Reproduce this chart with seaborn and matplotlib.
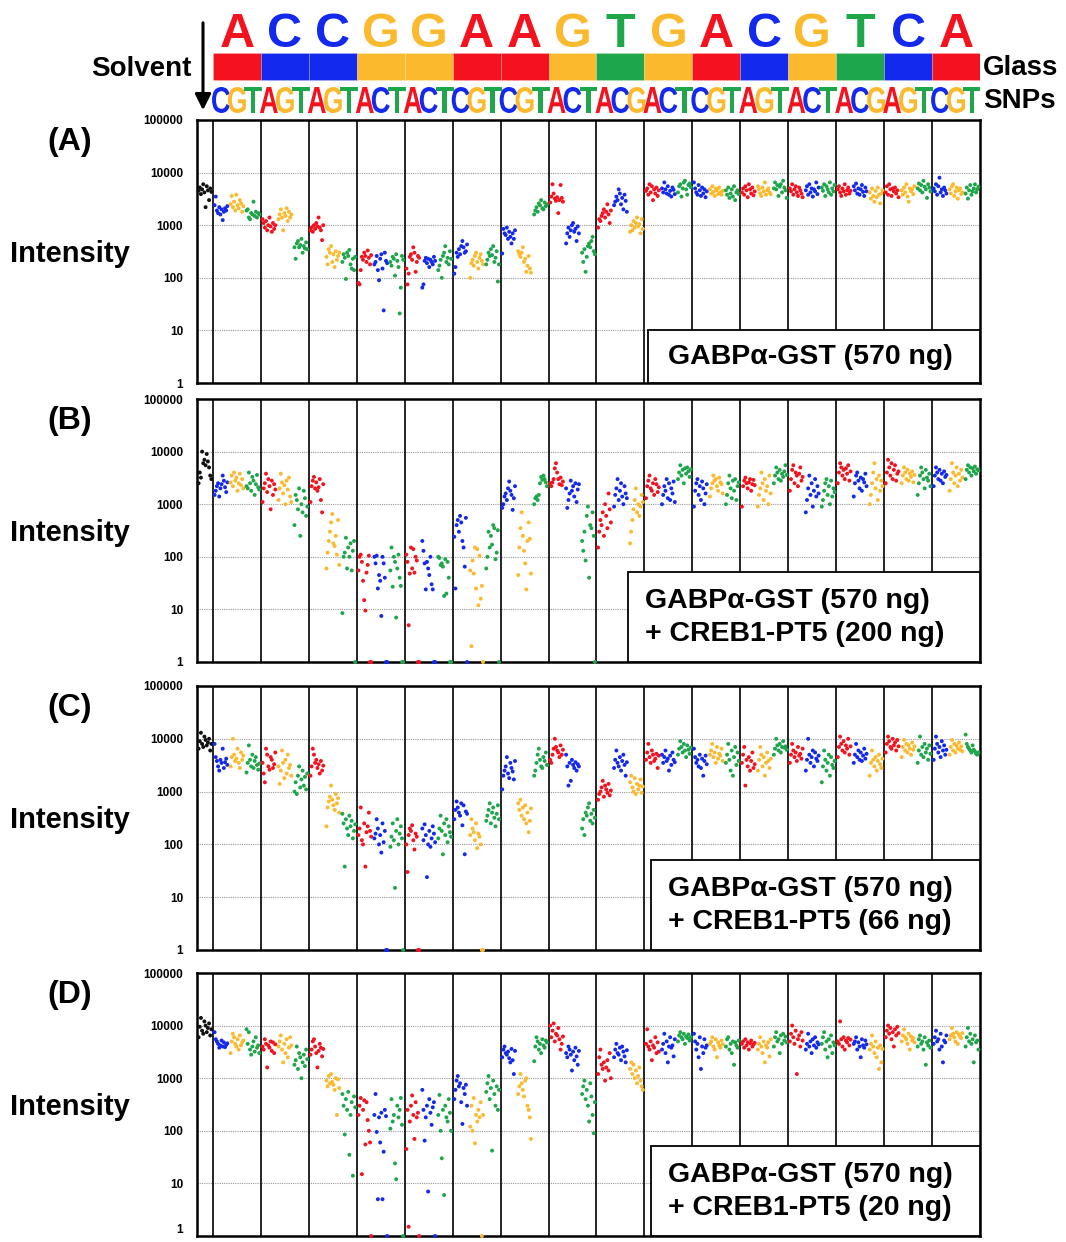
import numpy as np
import pandas as pd
import matplotlib.pyplot as plt
import seaborn as sns
from matplotlib.textpath import TextPath
from matplotlib.patches import PathPatch, Rectangle
from matplotlib.font_manager import FontProperties
from matplotlib.transforms import Affine2D
from matplotlib.ticker import NullLocator

sns.set_theme(style="white")
plt.rcParams["font.family"] = ["Liberation Sans", "DejaVu Sans"]
plt.rcParams["text.color"] = "black"
plt.rcParams["ytick.color"] = "black"

# Sequence shown above the panels
GLASS = list("ACCGGAAGTGACGTCA")
SNPS = list("CGTAGTAGTACTACTCGTCGTACTACGACTCGTAGTACTACGAGTCGT")

COLORS = {"A": "#F5121F", "C": "#1429EE", "G": "#FBBA2D", "T": "#1EA64B", "S": "#111111"}

YTICKS = [1, 10, 100, 1000, 10000, 100000]
YTICK_LABELS = ["1", "10", "100", "1000", "10000", "100000"]

# Intensity per probe, first group = solvent, then 48 SNP groups (3 per glass base)
# a value of 1 is a probe that sat at zero
VALUES_A = [
    [4500, 5200, 3900, 4800, 6000, 4200, 2200, 5500, 4600, 3000, 5000, 4300],
    [2400, 3500, 1900, 1700, 2200, 1600, 2000, 1250, 1800, 2100, 1900, 2300],
    [2500, 3600, 2200, 2800, 1900, 3800, 2400, 2100, 3000, 2600, 1800, 2300],
    [1900, 2000, 1400, 1300, 1700, 1600, 2800, 1500, 1800, 1400, 1700, 1600],
    [1300, 1100, 900, 1200, 800, 1000, 1400, 950, 750, 1100, 850, 1000],
    [1300, 1600, 2000, 1400, 800, 1700, 1500, 2100, 1200, 1800, 1400, 1600],
    [380, 230, 450, 500, 380, 420, 550, 300, 400, 360, 470, 350],
    [800, 900, 750, 1000, 850, 1100, 950, 1400, 900, 800, 520, 1000],
    [250, 180, 350, 300, 400, 200, 280, 160, 320, 220, 260, 300],
    [200, 280, 240, 95, 300, 260, 340, 180, 150, 230, 140, 250],
    [80, 75, 140, 250, 220, 300, 260, 200, 330, 240, 180, 270],
    [180, 200, 260, 140, 90, 230, 280, 150, 24, 300, 210, 190],
    [200, 170, 250, 230, 110, 280, 210, 160, 21, 65, 260, 220],
    [150, 75, 120, 250, 280, 220, 380, 300, 130, 200, 260, 240],
    [65, 75, 210, 240, 190, 230, 160, 220, 200, 180, 250, 210],
    [140, 170, 220, 100, 260, 300, 400, 200, 240, 180, 320, 230],
    [120, 160, 300, 250, 350, 280, 400, 500, 380, 300, 320, 430],
    [100, 190, 220, 170, 260, 300, 200, 150, 240, 280, 210, 180],
    [180, 220, 300, 260, 350, 270, 400, 200, 240, 320, 85, 180],
    [290, 850, 700, 650, 900, 550, 750, 600, 450, 700, 550, 800],
    [320, 280, 250, 300, 380, 200, 230, 130, 170, 260, 150, 125],
    [1600, 1900, 2200, 1800, 2600, 2400, 3000, 2100, 2000, 2700, 2300, 2500],
    [2700, 3500, 6000, 4000, 3200, 2900, 3400, 1700, 3000, 5800, 3300, 2800],
    [450, 700, 900, 600, 800, 1000, 1100, 750, 850, 500, 950, 700],
    [300, 200, 350, 130, 250, 400, 450, 380, 500, 600, 320, 280],
    [900, 1300, 1200, 1500, 1700, 2000, 1400, 1800, 2500, 1600, 1100, 1900],
    [2400, 2800, 3500, 3000, 4800, 4000, 2500, 3300, 2000, 3800, 2900, 1800],
    [750, 1000, 800, 1200, 900, 1100, 1400, 950, 1050, 700, 1300, 850],
    [4500, 5000, 3800, 6000, 4200, 5500, 3000, 4800, 4000, 5200, 3600, 4600],
    [5000, 4200, 6500, 4800, 4000, 5500, 3800, 4500, 3500, 5200, 4700, 3900],
    [4200, 5500, 6000, 3500, 5000, 6500, 7000, 4800, 3800, 5800, 6200, 5300],
    [6500, 5000, 4200, 3800, 5800, 4600, 3600, 5200, 4000, 4800, 3400, 4400],
    [4800, 4000, 5500, 4300, 3600, 5000, 4600, 3900, 5200, 4200, 3800, 4500],
    [4600, 3800, 5200, 3300, 4000, 4800, 3500, 5500, 3000, 4200, 4600, 3900],
    [4200, 5000, 3800, 5500, 4600, 3400, 6000, 4800, 4000, 5200, 3700, 4400],
    [5500, 4800, 4000, 3600, 5200, 4400, 6500, 3800, 4600, 5000, 4200, 3900],
    [5000, 6500, 4800, 5800, 3600, 5400, 6000, 4200, 7000, 5200, 4600, 3300],
    [5000, 4400, 6000, 3800, 4800, 5500, 4200, 3600, 5200, 4600, 4000, 3400],
    [4600, 5500, 3800, 6000, 4200, 5000, 3500, 4800, 4400, 6500, 3900, 5200],
    [5200, 4500, 6000, 3600, 5500, 4800, 4200, 6500, 3800, 5000, 4400, 5800],
    [4800, 5500, 4200, 3600, 5000, 4400, 6000, 3800, 4600, 5200, 4000, 4500],
    [5500, 4600, 6200, 4000, 5000, 3800, 4800, 5800, 4300, 3600, 5200, 4400],
    [4200, 3200, 5000, 3600, 2800, 4500, 3400, 5200, 3800, 2600, 4000, 4600],
    [4200, 5500, 3800, 6000, 4800, 3600, 5000, 4400, 5200, 4000, 4600, 3400],
    [4600, 3800, 5200, 4200, 6000, 3500, 2800, 5000, 4400, 4800, 3900, 5500],
    [5000, 6200, 4600, 5800, 4200, 7000, 5400, 4800, 3300, 6000, 5200, 4400],
    [5000, 4400, 6000, 3800, 5500, 8000, 4200, 4800, 3600, 5200, 4600, 4000],
    [4800, 4000, 5500, 6000, 3600, 4400, 5200, 3200, 4600, 5000, 3900, 4200],
    [4000, 5200, 3200, 4600, 5800, 3800, 4400, 5000, 6000, 4200, 4800, 5400],
]

VALUES_B = [
    [2500, 4000, 3200, 10000, 6000, 7000, 5500, 9000, 6500, 5000, 3500, 3000],
    [1500, 1800, 2200, 2500, 1400, 2000, 2400, 3500, 2800, 2100, 1700, 2600],
    [2600, 3500, 2200, 4000, 2800, 3200, 1800, 2500, 3800, 2300, 3000, 2000],
    [2200, 2000, 4000, 2500, 1800, 3300, 2800, 1500, 2400, 3600, 2100, 1900],
    [1100, 2000, 2500, 3800, 1700, 3000, 2200, 800, 2800, 1500, 2400, 1900],
    [1200, 2000, 3800, 2600, 1600, 2300, 1000, 2800, 1900, 3200, 1400, 1100],
    [400, 1500, 1200, 800, 2000, 250, 1000, 700, 1800, 1300, 600, 900],
    [1100, 2200, 2800, 3300, 2000, 2600, 1800, 2100, 3000, 1200, 700, 2400],
    [60, 120, 200, 300, 450, 650, 180, 160, 250, 110, 500, 70],
    [8.5, 100, 120, 230, 60, 150, 100, 180, 55, 130, 200, 1],
    [55, 100, 110, 80, 35, 15, 9.5, 50, 70, 105, 1, 1],
    [100, 75, 105, 25, 45, 35, 7.5, 100, 75, 40, 1, 1],
    [55, 150, 27, 100, 80, 7, 60, 110, 40, 28, 1, 1],
    [110, 80, 5, 48, 150, 60, 140, 50, 100, 85, 1, 1],
    [200, 130, 75, 24, 80, 60, 45, 100, 30, 24, 1, 1],
    [100, 95, 70, 75, 65, 18, 90, 20, 80, 40, 1, 1],
    [240, 25, 400, 500, 300, 600, 450, 200, 150, 65, 550, 1],
    [55, 2, 85, 48, 150, 25, 140, 12, 105, 16, 28, 1],
    [60, 100, 300, 150, 250, 170, 400, 350, 90, 120, 320, 1],
    [850, 1000, 1400, 1600, 1200, 2000, 2700, 1800, 1500, 780, 1300, 2200],
    [45, 150, 350, 700, 250, 130, 75, 24, 200, 450, 220, 48],
    [1000, 1300, 1400, 1200, 1500, 2500, 3300, 2900, 3500, 3000, 2600, 2200],
    [2500, 2200, 2600, 3000, 4800, 6000, 4000, 3000, 2400, 3200, 2300, 2700],
    [2000, 850, 1200, 1600, 2800, 1800, 2200, 1400, 2500, 1100, 1900, 2400],
    [200, 130, 300, 85, 600, 900, 40, 400, 350, 700, 250, 1],
    [150, 300, 500, 400, 700, 250, 1000, 600, 350, 1600, 800, 450],
    [900, 1500, 2000, 3000, 1200, 1800, 2500, 1400, 1000, 2200, 1600, 1300],
    [180, 300, 500, 800, 1200, 2000, 700, 1000, 600, 900, 1500, 1100],
    [1300, 2200, 2800, 3500, 2000, 1800, 2500, 1500, 3000, 2400, 1700, 2100],
    [1000, 1500, 2200, 1800, 3000, 1300, 2500, 1200, 2000, 1600, 2700, 1100],
    [3000, 4000, 5500, 3500, 4500, 2500, 4800, 3800, 5000, 4200, 3300, 4600],
    [900, 1800, 2500, 3000, 1500, 2200, 1200, 2700, 2000, 1000, 1600, 2400],
    [1400, 2000, 2500, 3500, 2800, 3000, 2200, 1800, 3200, 2600, 2400, 1600],
    [1000, 1500, 2500, 3500, 2000, 1300, 2800, 1800, 3000, 1200, 2200, 2600],
    [900, 2200, 2800, 3200, 2500, 2000, 2600, 3000, 1800, 2400, 2900, 2300],
    [900, 1500, 2000, 4000, 2500, 1200, 3000, 1800, 2200, 1000, 3500, 1600],
    [2500, 3500, 5000, 4000, 3000, 4500, 2800, 3800, 3300, 4200, 5500, 3600],
    [1800, 3000, 4500, 5500, 2500, 4000, 3500, 2200, 3800, 5000, 2800, 3300],
    [700, 1200, 2000, 3500, 1500, 2500, 900, 1800, 3000, 1400, 2200, 1600],
    [900, 1200, 1800, 2500, 3000, 1500, 2200, 1000, 2800, 1400, 2000, 1700],
    [2500, 4000, 6000, 5000, 3500, 4500, 3000, 4800, 3800, 5500, 2800, 4200],
    [1400, 2500, 3500, 4000, 2800, 2000, 3200, 1800, 3000, 2600, 3800, 2200],
    [1000, 1500, 2500, 4000, 6000, 2000, 3000, 1200, 3500, 1800, 2800, 2200],
    [2500, 4000, 7000, 5000, 3500, 6000, 3000, 4500, 5500, 2800, 3800, 4200],
    [2500, 3500, 5000, 4000, 3000, 4500, 2800, 3800, 3300, 4200, 2600, 3600],
    [1500, 2500, 3500, 5000, 4000, 3000, 2000, 4500, 3200, 2800, 3800, 2200],
    [2200, 3500, 5000, 4000, 3000, 4500, 2800, 3800, 2500, 4200, 3300, 3600],
    [1800, 3000, 6000, 4000, 2500, 3500, 5000, 2200, 3800, 2800, 4500, 3200],
    [3000, 4500, 5500, 4000, 5000, 3500, 4800, 4200, 5200, 3800, 4600, 4400],
]

VALUES_C = [
    [6500, 9000, 13000, 8000, 7000, 11000, 9500, 7500, 8500, 10000, 6000, 8000],
    [8000, 4500, 3800, 3000, 2500, 4000, 3500, 6500, 2800, 3600, 4200, 3200],
    [3000, 4500, 10000, 5000, 3800, 4200, 6500, 3500, 2800, 5500, 4000, 4800],
    [2300, 3500, 7500, 4000, 3000, 5000, 2800, 3800, 4500, 3200, 2600, 3400],
    [3500, 2200, 1500, 6500, 5000, 3000, 2600, 4500, 4000, 2800, 3300, 5500],
    [3000, 1400, 2500, 6000, 3500, 1800, 4000, 2200, 5000, 2800, 3200, 2000],
    [1000, 1500, 900, 2000, 3000, 1200, 1700, 2500, 1300, 1900, 1100, 2200],
    [2000, 3000, 6500, 5000, 3500, 4000, 2800, 3300, 2200, 3800, 2500, 3100],
    [220, 500, 650, 800, 1300, 700, 550, 450, 900, 600, 750, 400],
    [380, 250, 38, 300, 200, 150, 350, 220, 280, 130, 180, 240],
    [150, 200, 500, 120, 100, 250, 38, 170, 220, 400, 180, 140],
    [130, 160, 300, 200, 100, 150, 70, 250, 110, 180, 1, 1],
    [90, 140, 250, 120, 15, 180, 300, 100, 160, 220, 130, 1],
    [100, 30, 150, 200, 180, 230, 120, 80, 160, 140, 1, 1],
    [200, 120, 240, 150, 24, 100, 180, 90, 130, 220, 160, 110],
    [130, 200, 350, 180, 65, 250, 150, 300, 110, 220, 170, 140],
    [300, 450, 650, 500, 400, 350, 600, 230, 550, 65, 420, 380],
    [150, 300, 200, 170, 120, 250, 85, 160, 140, 100, 1, 1],
    [280, 350, 450, 600, 250, 400, 500, 320, 220, 380, 550, 300],
    [1100, 2000, 2500, 3000, 4500, 2200, 1800, 3500, 2800, 2400, 1700, 3800],
    [600, 450, 700, 350, 500, 300, 550, 250, 400, 170, 280, 480],
    [2000, 2500, 3500, 5000, 6500, 4000, 3000, 2800, 4500, 3800, 5500, 3200],
    [4000, 3500, 5000, 6500, 10000, 7000, 6000, 5500, 4500, 7500, 5000, 6200],
    [5000, 3000, 1300, 3500, 1600, 4000, 3200, 2800, 3600, 2500, 3300, 3000],
    [200, 300, 150, 400, 350, 500, 600, 280, 380, 250, 450, 320],
    [700, 900, 1000, 1200, 1600, 800, 1300, 1100, 950, 1400, 850, 1050],
    [2800, 4000, 6000, 3500, 3000, 4500, 2500, 3800, 5000, 3200, 2000, 3600],
    [1500, 2000, 1200, 1000, 1800, 900, 1400, 1100, 1300, 1700, 950, 1250],
    [4000, 5500, 8000, 4500, 3500, 6000, 5000, 3800, 4200, 5200, 2800, 4800],
    [5000, 3500, 4500, 6000, 3800, 4200, 2500, 4800, 3200, 5500, 4000, 3600],
    [5000, 6500, 9000, 7000, 5500, 8000, 6000, 4500, 7500, 6200, 5200, 6800],
    [6500, 4500, 3500, 4000, 3000, 5000, 2800, 4200, 2000, 3800, 4800, 3300],
    [5000, 6000, 8000, 4500, 5500, 3500, 7000, 4200, 5200, 4800, 6500, 3800],
    [3500, 5000, 8000, 4000, 2500, 6000, 2000, 4500, 7000, 3200, 5500, 3800],
    [3500, 5000, 7000, 1300, 4000, 3000, 4500, 2500, 3800, 5500, 2800, 3300],
    [2500, 4000, 7000, 5000, 3000, 4500, 2000, 3500, 5500, 3800, 2800, 4200],
    [5000, 6500, 10000, 7500, 6000, 8000, 5500, 7000, 9000, 6800, 7200, 6200],
    [3500, 5000, 8000, 6000, 4500, 5500, 3800, 7000, 4800, 5200, 4200, 6500],
    [2500, 4000, 10000, 5000, 3500, 4500, 6000, 3000, 5500, 4200, 3800, 4800],
    [1500, 3000, 6000, 4000, 2500, 3500, 5000, 2000, 4500, 3200, 2800, 3800],
    [4500, 7000, 11000, 8000, 6000, 9000, 5500, 7500, 6500, 10000, 5000, 7200],
    [3500, 5000, 8000, 4500, 6000, 4000, 5500, 3800, 4800, 6500, 4200, 5200],
    [2000, 3500, 6000, 4000, 3000, 4500, 2500, 3800, 5000, 3300, 2800, 4200],
    [5500, 8000, 11000, 9000, 7000, 6500, 10000, 7500, 8500, 6000, 9500, 7200],
    [4500, 7000, 9500, 6000, 8000, 5500, 7500, 6500, 5000, 8500, 6200, 7200],
    [3500, 6000, 11000, 5000, 7000, 4500, 8000, 5500, 6500, 4000, 7500, 5200],
    [4000, 6500, 11000, 8000, 5500, 7000, 4500, 9000, 6000, 7500, 5000, 6200],
    [5000, 7000, 9500, 6000, 8000, 5500, 7500, 6500, 8500, 6200, 7200, 5800],
    [12000, 8000, 7000, 6500, 6000, 5500, 7500, 6200, 5800, 5200, 5000, 5500],
]

VALUES_D = [
    [6000, 9500, 14000, 8000, 7000, 12000, 10000, 7500, 9000, 11000, 6500, 8500],
    [7500, 5500, 5000, 4500, 3800, 4200, 5200, 4000, 4800, 3900, 4300, 4600],
    [3000, 5000, 7000, 6000, 4500, 4000, 5500, 3500, 6500, 4200, 4800, 5200],
    [8500, 4500, 7500, 3500, 2800, 4000, 5000, 3200, 6000, 3800, 4200, 3000],
    [4000, 3500, 5500, 4500, 1600, 4200, 3800, 5000, 3300, 4800, 3000, 4400],
    [4000, 5000, 6500, 3500, 2000, 4500, 3000, 5500, 2500, 3800, 6000, 4200],
    [1800, 2200, 4000, 1500, 3000, 2500, 1000, 2000, 2800, 1700, 3500, 2300],
    [2800, 3500, 5000, 5500, 4000, 3000, 1600, 3300, 4500, 3800, 2600, 3600],
    [900, 700, 1100, 800, 1200, 850, 750, 600, 1000, 200, 950, 650],
    [500, 300, 85, 400, 250, 550, 35, 200, 350, 14, 450, 280],
    [200, 300, 420, 15, 250, 380, 55, 350, 160, 100, 60, 1],
    [200, 500, 95, 5, 180, 60, 220, 5, 40, 250, 190, 1],
    [110, 400, 150, 200, 24, 12, 300, 180, 250, 420, 130, 1],
    [45, 250, 1.5, 150, 300, 470, 200, 70, 350, 180, 220, 1],
    [600, 250, 65, 180, 300, 7, 400, 220, 130, 280, 350, 1],
    [200, 480, 100, 30, 250, 6, 300, 180, 150, 400, 220, 100],
    [400, 600, 900, 1100, 700, 800, 350, 135, 650, 500, 750, 300],
    [120, 300, 100, 420, 58, 200, 150, 250, 180, 350, 1, 200],
    [550, 800, 1100, 400, 650, 42, 900, 500, 300, 700, 250, 600],
    [2500, 3500, 4000, 3000, 2800, 3200, 2400, 2000, 3600, 2200, 1200, 3300],
    [500, 700, 1200, 800, 600, 450, 900, 1000, 300, 250, 180, 70],
    [2100, 4000, 6000, 5000, 3500, 4500, 3000, 5500, 4200, 3800, 5200, 4800],
    [10000, 6000, 8000, 11000, 5000, 7000, 6500, 9000, 5500, 3500, 4500, 6200],
    [3000, 2500, 4000, 3500, 2800, 1400, 3200, 2200, 3800, 2600, 1800, 3300],
    [500, 700, 900, 400, 600, 300, 150, 800, 450, 200, 90, 350],
    [1200, 2500, 3500, 1800, 1500, 2000, 900, 1600, 2200, 1400, 3000, 1000],
    [2500, 3500, 4500, 3000, 2800, 3800, 2200, 4000, 3200, 2600, 2000, 3400],
    [1500, 2000, 1200, 1800, 1000, 1400, 800, 1100, 1600, 900, 700, 600],
    [4500, 8500, 4000, 3500, 5000, 2200, 4200, 3800, 6000, 3000, 4800, 3200],
    [3500, 4500, 7000, 3000, 5000, 2000, 4000, 6000, 3800, 4200, 2600, 5500],
    [5000, 6500, 7500, 6000, 5500, 7000, 4500, 6200, 5800, 6800, 5200, 6000],
    [7000, 5000, 3500, 4500, 2500, 6000, 1500, 4000, 3000, 5500, 3800, 4200],
    [4500, 5000, 6000, 4000, 3500, 5500, 2500, 4800, 4200, 3800, 5200, 4400],
    [4000, 5500, 6000, 3500, 4500, 3000, 5000, 1800, 4800, 4200, 3800, 5200],
    [4500, 5000, 3800, 5500, 4200, 4800, 3500, 4600, 5200, 4000, 4400, 4700],
    [3500, 4500, 6000, 4000, 3000, 5000, 2000, 4200, 3800, 4800, 2600, 5500],
    [4000, 6000, 7500, 5000, 5500, 3000, 6500, 4500, 7000, 5200, 6200, 4800],
    [5000, 7000, 10000, 6000, 4500, 8000, 1200, 5500, 6500, 4000, 7500, 5200],
    [3500, 4500, 7000, 4000, 5000, 3000, 5500, 4200, 6000, 3800, 4800, 4400],
    [4500, 6000, 7500, 3500, 5000, 2500, 5500, 4000, 6500, 3000, 4800, 4200],
    [5000, 4500, 12000, 5500, 4000, 6000, 3500, 5200, 4800, 5800, 4200, 5400],
    [4500, 5000, 6000, 3500, 4800, 4000, 2500, 5500, 4200, 3800, 5200, 4400],
    [3500, 4500, 6500, 4000, 3000, 5000, 2500, 3800, 1500, 4200, 2000, 3600],
    [6000, 8000, 10000, 7000, 9000, 5500, 7500, 4000, 8500, 6500, 9500, 7200],
    [5000, 6500, 8500, 6000, 5500, 4500, 7000, 3500, 6200, 5200, 5800, 4800],
    [4000, 5500, 6500, 4500, 5000, 3500, 6000, 1800, 4800, 4200, 5200, 3800],
    [4500, 6000, 8000, 5000, 5500, 3500, 7000, 4000, 2000, 5200, 4800, 6500],
    [5500, 6500, 9000, 7000, 6000, 5000, 7500, 4500, 6800, 6200, 5800, 7200],
    [4000, 6000, 9000, 5000, 7000, 4500, 5500, 2000, 6500, 4800, 5200, 3500],
]

PANEL_LABELS = ["(A)", "(B)", "(C)", "(D)"]
PANEL_TEXT = [
    ["GABPα-GST (570 ng)"],
    ["GABPα-GST (570 ng)", "+ CREB1-PT5 (200 ng)"],
    ["GABPα-GST (570 ng)", "+ CREB1-PT5 (66 ng)"],
    ["GABPα-GST (570 ng)", "+ CREB1-PT5 (20 ng)"],
]

# long table for seaborn
rows = []
for p, groups in enumerate([VALUES_A, VALUES_B, VALUES_C, VALUES_D]):
    assert len(groups) == 1 + len(SNPS)
    for g, vals in enumerate(groups):
        base = "S" if g == 0 else SNPS[g - 1]
        xs = g + np.linspace(0.1, 0.9, len(vals))
        for x, v in zip(xs, vals):
            rows.append({"panel": p, "x": x, "intensity": v, "base": base})
df = pd.DataFrame(rows)

W, H = 1066, 1242
X0, X1 = 197, 980
NX = 1 + len(SNPS)

fig = plt.figure(figsize=(W / 100, H / 100), dpi=100)


def fx(px):
    return px / W


def fy(py):
    return 1 - py / H


# header: glass letters, coloured bars, SNP letters
hax = fig.add_axes([fx(X0), fy(118), (X1 - X0) / W, 118 / H])
hax.set_xlim(0, NX)
hax.set_ylim(0, 118)
hax.axis("off")

for j, b in enumerate(GLASS):
    hax.add_patch(Rectangle((1 + 3 * j, 118 - 80), 3, 27, facecolor=COLORS[b],
                            edgecolor=(1, 1, 1, 0.25), lw=0.5))
    hax.text(2.5 + 3 * j, 118 - 47, b, ha="center", va="baseline", fontsize=35,
             fontweight="bold", color=COLORS[b])

fp = FontProperties(family="Liberation Sans", weight="bold")
for i, b in enumerate(SNPS):
    path = TextPath((0, 0), b, size=1, prop=fp)
    bb = path.get_extents()
    tr = Affine2D().translate(-bb.x0, -bb.y0).scale(1.12 / bb.width, 26 / bb.height)
    tr = tr.translate(1 + i - 0.06, 118 - 113)
    hax.add_patch(PathPatch(path, transform=tr + hax.transData, color=COLORS[b], lw=0))

hax.annotate("", xy=((203 - X0) / (X1 - X0) * NX, 118 - 113),
             xytext=((203 - X0) / (X1 - X0) * NX, 118 - 20),
             arrowprops=dict(arrowstyle="-|>", color="black", lw=2.2, mutation_scale=24),
             annotation_clip=False)

fig.text(fx(192), fy(69), "Solvent", ha="right", va="center", fontsize=20, fontweight="bold")
fig.text(fx(983), fy(68), "Glass", ha="left", va="center", fontsize=20, fontweight="bold")
fig.text(fx(983), fy(101), "SNPs", ha="left", va="center", fontsize=20, fontweight="bold")

# panels: (top, bottom, box left, text left) in pixels
PANEL_POS = [(120, 383, 648, 668), (399, 662, 628, 645),
             (686, 950, 651, 668), (973, 1236, 651, 668)]

for p, (top, bot, box_l, txt_l) in enumerate(PANEL_POS):
    ax = fig.add_axes([fx(X0), fy(bot), (X1 - X0) / W, (bot - top) / H])
    sns.scatterplot(data=df[df["panel"] == p], x="x", y="intensity", hue="base",
                    palette=COLORS, s=8, linewidth=0, legend=False, ax=ax,
                    clip_on=False, zorder=3)
    ax.set_yscale("log")
    ax.set_ylim(1, 100000)
    ax.set_xlim(0, NX)
    ax.set_yticks(YTICKS)
    ax.set_yticklabels(YTICK_LABELS, fontsize=8.5, fontweight="bold", color="black")
    ax.yaxis.set_minor_locator(NullLocator())
    ax.set_xticks([])
    ax.set_xlabel("")
    ax.set_ylabel("")
    ax.tick_params(axis="y", length=0, pad=10)
    ax.grid(axis="y", which="major", color="#9a9a9a", ls=(0, (1, 1)), lw=0.8)
    ax.set_axisbelow(True)
    for xv in range(1, NX, 3):
        ax.axvline(xv, color="black", lw=1.2, zorder=2)
    for sp in ax.spines.values():
        sp.set_color("black")
        sp.set_linewidth(1.8)
    if p == 3:
        # keep the bottom "1" inside the figure
        ax.get_yticklabels()[0].set_verticalalignment("bottom")

    hpx = bot - top
    bx = (box_l - X0) / (X1 - X0)
    bh = (90 if len(PANEL_TEXT[p]) == 2 else 53) / hpx
    ax.add_patch(Rectangle((bx, 0), 1 - bx, bh, transform=ax.transAxes, facecolor="white",
                           edgecolor="black", lw=1.3, zorder=10, clip_on=False))
    tx = (txt_l - X0) / (X1 - X0)
    lines = PANEL_TEXT[p]
    if len(lines) == 1:
        ys = [26 / hpx]
    else:
        ys = [61 / hpx, 28 / hpx]
    for line, ty in zip(lines, ys):
        ax.text(tx, ty, line, transform=ax.transAxes, fontsize=20.5, fontweight="bold",
                ha="left", va="center", zorder=11, color="black")

    fig.text(fx(70), fy(top + 22), PANEL_LABELS[p], ha="center", va="center",
             fontsize=23, fontweight="bold", color="black")
    fig.text(fx(70), fy(top + 134), "Intensity", ha="center", va="center",
             fontsize=21, fontweight="bold", color="black")

fig.savefig("out.png", dpi=100)
